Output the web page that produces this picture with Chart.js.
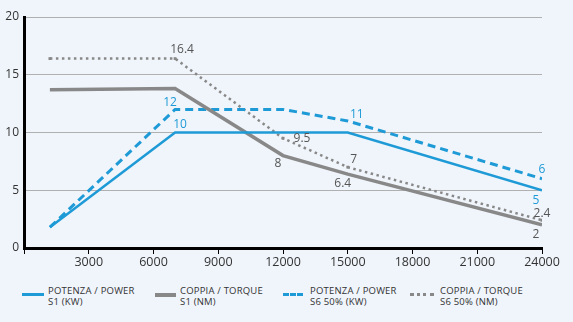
<!DOCTYPE html>
<html>
<head>
<meta charset="utf-8">
<script src="https://cdn.jsdelivr.net/npm/chart.js@4"></script>
<style>
  body { margin: 0; background: #f0f5fb; font-family: "Open Sans", sans-serif; }
  #wrap { position: relative; width: 573px; height: 322px; }
  #chart { position: absolute; left: 0; top: 0; }
  .leg { position: absolute; top: 286px; font-size: 9.5px; line-height: 10.5px; color: #333; letter-spacing: 0.2px; }
  .sw { position: absolute; top: 293px; height: 0; }
</style>
</head>
<body>
<div id="wrap">
  <canvas id="chart" width="573" height="276"></canvas>
  <div class="sw" style="left:22px;width:22px;border-top:3px solid #1e9ad6"></div>
  <div class="leg" style="left:48px">POTENZA / POWER<br>S1 (KW)</div>
  <div class="sw" style="left:155px;width:21px;border-top:4px solid #888"></div>
  <div class="leg" style="left:180px">COPPIA / TORQUE<br>S1 (NM)</div>
  <div class="sw" style="left:283px;width:20px;border-top:3px dashed #1e9ad6"></div>
  <div class="leg" style="left:310px">POTENZA / POWER<br>S6 50% (KW)</div>
  <div class="sw" style="left:410px;width:24px;border-top:3px dotted #888"></div>
  <div class="leg" style="left:440px">COPPIA / TORQUE<br>S6 50% (NM)</div>
</div>
<script>
// --- DATA ---
const rpm = [1200, 7000, 12000, 15000, 24000];
const powerS1 = [1.8, 10, 10, 10, 5];
const torqueS1 = [13.7, 13.8, 8, 6.4, 2];
const powerS6 = [1.8, 12, 12, 11, 6];
const torqueS6 = [16.4, 16.4, 9.5, 7, 2.4];
const xTicks = [3000, 6000, 9000, 12000, 15000, 18000, 21000, 24000];

const BLUE = "#1e9ad6";
const GRAY = "#888888";

function toPoints(values) {
  return rpm.map((x, i) => ({ x: x, y: values[i] }));
}

// value labels: per dataset, offsets [dx, dy] for points 1..4 (first point unlabelled)
const labelOffsets = [
  [[5, -8], [0, 0], [0, 0], [-6, 10]],
  [[0, 0], [-5, 8], [-5, 9], [-6, 10]],
  [[-5, -7], [0, 0], [9, -6], [0, -9]],
  [[7, -9], [19, 0], [6, -8], [0, -7]],
];
const labelShow = [
  [true, false, false, true],
  [false, true, true, true],
  [true, false, true, true],
  [true, true, true, true],
];

const valueLabels = {
  id: "valueLabels",
  afterDatasetsDraw(chart) {
    const ctx = chart.ctx;
    ctx.save();
    ctx.font = "12px 'Open Sans'";
    ctx.textAlign = "center";
    ctx.textBaseline = "middle";
    chart.data.datasets.forEach((ds, di) => {
      const meta = chart.getDatasetMeta(di);
      ctx.fillStyle = di % 2 === 0 ? BLUE : "#555";
      for (let i = 1; i < meta.data.length; i++) {
        if (!labelShow[di][i - 1]) continue;
        const p = meta.data[i];
        const off = labelOffsets[di][i - 1];
        ctx.fillText(String(ds.data[i].y), p.x + off[0], p.y + off[1]);
      }
    });
    ctx.restore();
  },
};

const ctx = document.getElementById("chart").getContext("2d");
new Chart(ctx, {
  type: "line",
  data: {
    datasets: [
      {
        label: "POTENZA / POWER S1 (KW)",
        data: toPoints(powerS1),
        borderColor: BLUE,
        borderWidth: 2.5,
        pointRadius: 0,
      },
      {
        label: "COPPIA / TORQUE S1 (NM)",
        data: toPoints(torqueS1),
        borderColor: GRAY,
        borderWidth: 3.5,
        pointRadius: 0,
      },
      {
        label: "POTENZA / POWER S6 50% (KW)",
        data: toPoints(powerS6),
        borderColor: BLUE,
        borderWidth: 3,
        borderDash: [8, 5],
        pointRadius: 0,
      },
      {
        label: "COPPIA / TORQUE S6 50% (NM)",
        data: toPoints(torqueS6),
        borderColor: GRAY,
        borderWidth: 2.5,
        borderDash: [2.5, 3.5],
        pointRadius: 2,
        pointStyle: "rect",
        pointBackgroundColor: GRAY,
        pointBorderWidth: 0,
      },
    ],
  },
  options: {
    responsive: false,
    animation: false,
    layout: { padding: { top: 17, right: 31, left: 0, bottom: 0 } },
    plugins: { legend: { display: false }, tooltip: { enabled: false } },
    scales: {
      x: {
        type: "linear",
        min: 0,
        max: 24000,
        afterBuildTicks: (axis) => {
          axis.ticks = [0].concat(xTicks).map((v) => ({ value: v }));
        },
        afterFit: (axis) => { axis.height = 28; },
        border: { color: "#000", width: 3 },
        grid: { drawOnChartArea: false, color: "#000", tickLength: 6, lineWidth: 1 },
        ticks: {
          color: "#333",
          font: { family: "Open Sans", size: 12.5 },
          padding: 1,
          maxRotation: 0,
          callback: (v) => (v === 0 ? "" : String(v)),
        },
      },
      y: {
        min: 0,
        max: 20,
        afterFit: (axis) => { axis.width = 24; },
        border: { color: "#000", width: 3 },
        grid: { color: "#b0b0b0", lineWidth: 1, drawTicks: false },
        ticks: {
          stepSize: 5,
          color: "#333",
          font: { family: "Open Sans", size: 12 },
          padding: 5,
        },
      },
    },
  },
  plugins: [valueLabels],
});
</script>
</body>
</html>
